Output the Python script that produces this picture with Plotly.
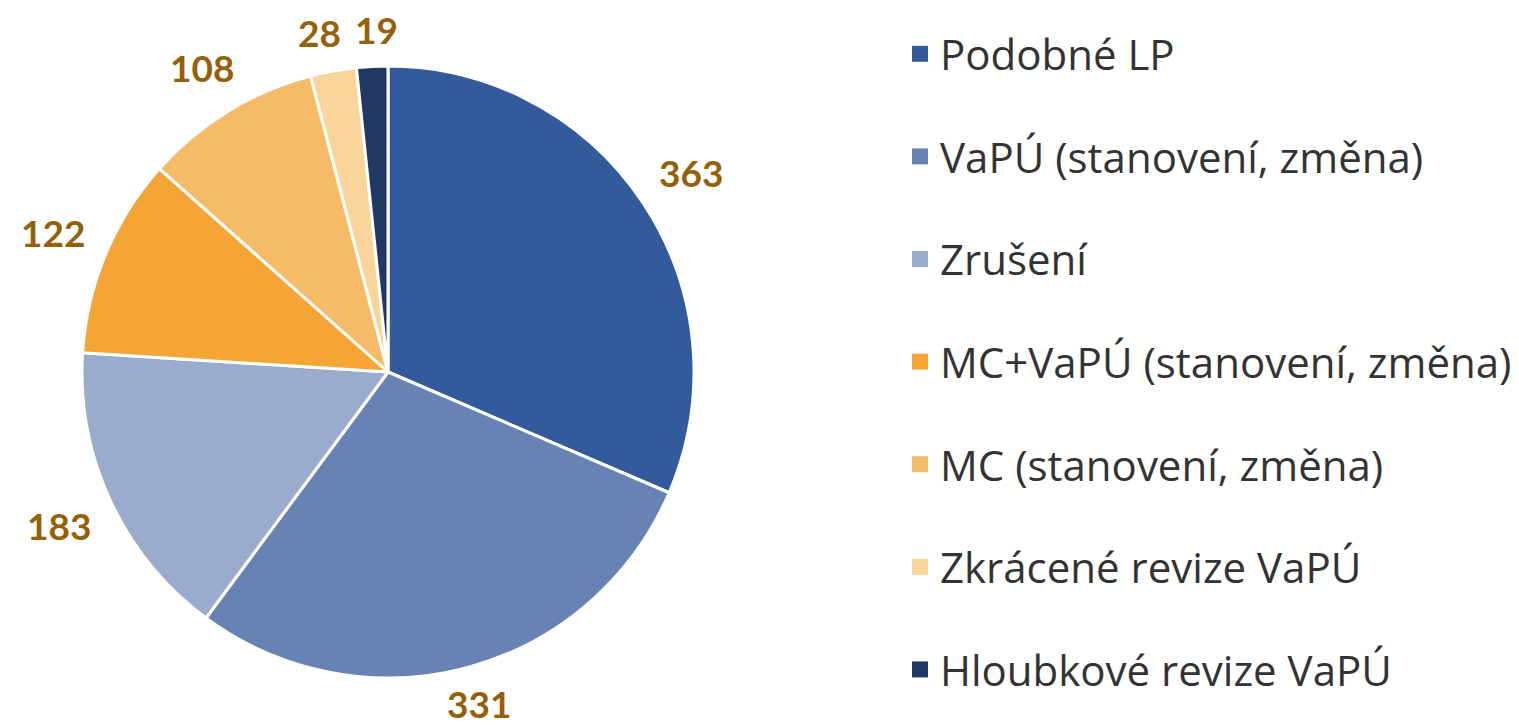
import math
import plotly.graph_objects as go

categories = ["Podobné LP", "VaPÚ (stanovení, změna)", "Zrušení",
              "MC+VaPÚ (stanovení, změna)", "MC (stanovení, změna)",
              "Zkrácené revize VaPÚ", "Hloubkové revize VaPÚ"]
values = [363, 331, 183, 122, 108, 28, 19]
colors = ["#335A9A", "#6783B4", "#9AACCD", "#F4A535", "#F6BB66", "#F9D59B", "#1F3864"]

W, H = 1519, 728
# pie geometry (pixels)
CX, CY, R = 388, 372, 306
LABEL_SIZE = 37

fig = go.Figure()
fig.add_trace(go.Pie(
    labels=categories, values=values, sort=False, direction="clockwise", rotation=0,
    marker=dict(colors=colors, line=dict(color="white", width=3)),
    textinfo="none", showlegend=False, hoverinfo="label+value",
    domain=dict(x=[(CX - R) / W, (CX + R) / W], y=[(H - CY - R) / H, (H - CY + R) / H]),
))

# value labels placed just outside each slice's mid-angle (computed from data)
total = sum(values)
cum = 0
pos = []
for v in values:
    mid = (cum + v / 2) / total * 2 * math.pi
    cum += v
    ux, uy = math.sin(mid), -math.cos(mid)
    tw = 0.58 * LABEL_SIZE * len(str(v))
    th = 0.75 * LABEL_SIZE
    ext = abs(ux) * tw / 2 + abs(uy) * th / 2
    r = R + 22 + ext
    pos.append([CX + ux * r, CY + uy * r, tw, th])

# simple horizontal de-overlap between neighbouring labels
for i in range(1, len(pos)):
    a, b = pos[i - 1], pos[i]
    need = (a[2] + b[2]) / 2 + 14
    if abs(a[1] - b[1]) < (a[3] + b[3]) / 2 and abs(b[0] - a[0]) < need:
        d = (need - abs(b[0] - a[0])) / 2
        s = 1 if b[0] >= a[0] else -1
        a[0] -= s * d
        b[0] += s * d

half_box = 0.66 * LABEL_SIZE
for v, (px, py, tw, th) in zip(values, pos):
    py = min(max(py, half_box), H - half_box)  # keep label box inside the page
    fig.add_annotation(x=px / W, y=1 - py / H, xref="paper", yref="paper",
                       text=str(v), showarrow=False, xanchor="center", yanchor="middle",
                       font=dict(family="Lato", size=LABEL_SIZE, color="#94600A", weight="bold"))

# legend entries (one per category, in own group for spacing)
for i, (cat, col) in enumerate(zip(categories, colors)):
    fig.add_trace(go.Scatter(
        x=[None], y=[None], mode="markers", name=cat, legendgroup=f"g{i}",
        marker=dict(symbol="square", size=16, color=col), showlegend=True,
    ))

fig.update_layout(
    width=W, height=H, margin=dict(l=0, r=0, t=0, b=0),
    paper_bgcolor="white", plot_bgcolor="white",
    xaxis=dict(visible=False, domain=[0.6, 0.61]), yaxis=dict(visible=False),
    legend=dict(x=900 / W, y=1 - 20 / H, xanchor="left", yanchor="top",
                font=dict(family="Open Sans", size=42, color="#333333"),
                tracegroupgap=45, itemsizing="trace", bgcolor="rgba(0,0,0,0)",
                maxheight=1),
)
fig.write_html("out.html", config={"displayModeBar": False},
               post_script="document.body.style.margin='0';")
